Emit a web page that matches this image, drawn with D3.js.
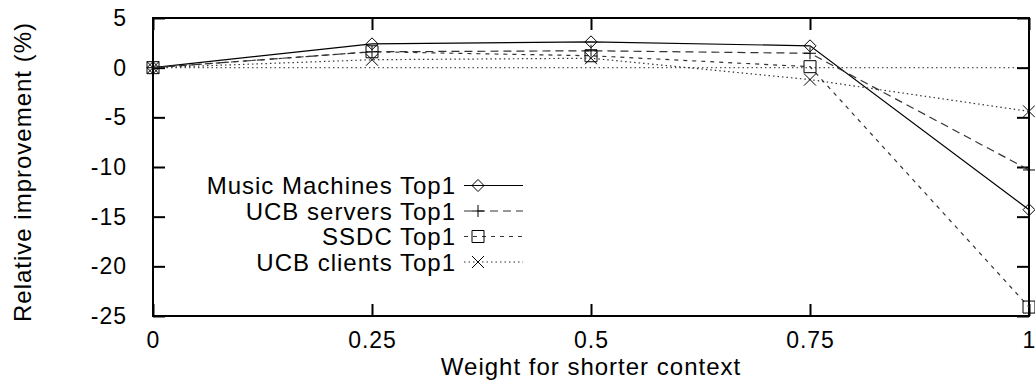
<!DOCTYPE html>
<html>
<head>
<meta charset="utf-8">
<script src="https://cdn.jsdelivr.net/npm/d3@7"></script>
<style>
  body { margin: 0; background: #fff; }
  text { font-family: "Liberation Sans", Arial, sans-serif; fill: #000; }
</style>
</head>
<body>
<div id="chart"></div>
<script>
// data
const weights = [0, 0.25, 0.5, 0.75, 1];
const musicMachines = [0, 2.4, 2.6, 2.2, -14.3];
const ucbServers = [0, 1.6, 1.7, 1.45, -10.3];
const ssdc = [0, 1.6, 1.2, 0.1, -24.1];
const ucbClients = [0, 0.8, 0.95, -1.2, -4.4];
const seriesNames = ['Music Machines Top1', 'UCB servers Top1', 'SSDC Top1', 'UCB clients Top1'];
const xTicks = [0, 0.25, 0.5, 0.75, 1];
const yTicks = [5, 0, -5, -10, -15, -20, -25];

const width = 1035, height = 388;
const margin = {top: 18, right: 6, bottom: 72, left: 153};
const innerW = width - margin.left - margin.right;
const innerH = height - margin.top - margin.bottom;

const svg = d3.select('#chart').append('svg')
    .attr('width', width)
    .attr('height', height);

const chart = svg.append('g')
    .attr('transform', `translate(${margin.left},${margin.top})`);

const x = d3.scaleLinear().domain([0, 1]).range([0, innerW]);
const y = d3.scaleLinear().domain([-25, 5]).range([innerH, 0]);

// dotted zero axis
chart.append('line')
    .attr('x1', 0).attr('x2', innerW)
    .attr('y1', y(0)).attr('y2', y(0))
    .attr('stroke', '#555')
    .attr('stroke-width', 1.2)
    .attr('stroke-dasharray', '1.5,3');

// ticks on all four sides, pointing inward
const tickLen = 12;
const fmt = d => String(d);
chart.append('g')
    .attr('class', 'x-axis')
    .attr('transform', `translate(0,${innerH})`)
    .call(d3.axisBottom(x).tickValues(xTicks).tickSize(-tickLen).tickPadding(tickLen + 4).tickFormat(fmt))
    .call(g => g.select('.domain').remove());
chart.append('g')
    .call(d3.axisTop(x).tickValues(xTicks).tickSize(-tickLen).tickFormat(''))
    .call(g => g.select('.domain').remove());
chart.append('g')
    .attr('class', 'y-axis')
    .call(d3.axisLeft(y).tickValues(yTicks).tickSize(-tickLen).tickPadding(tickLen + 14).tickFormat(fmt))
    .call(g => g.select('.domain').remove());
chart.append('g')
    .attr('transform', `translate(${innerW},0)`)
    .call(d3.axisRight(y).tickValues(yTicks).tickSize(-tickLen).tickFormat(''))
    .call(g => g.select('.domain').remove());

chart.selectAll('.tick line').attr('stroke', '#000').attr('stroke-width', 2);
chart.selectAll('.tick text')
    .style('font-size', '23px')
    .style('letter-spacing', '1px')
    .style('font-family', '"Liberation Sans", Arial, sans-serif');

// frame
chart.append('rect')
    .attr('width', innerW).attr('height', innerH)
    .attr('fill', 'none')
    .attr('stroke', '#000')
    .attr('stroke-width', 2);

// series
const styles = [
  {dash: null, marker: 'diamond'},
  {dash: '8,5', marker: 'plus'},
  {dash: '4,5', marker: 'square'},
  {dash: '1.5,3', marker: 'cross'}
];
const allSeries = [musicMachines, ucbServers, ssdc, ucbClients];

const line = d3.line()
    .x((d, i) => x(weights[i]))
    .y(d => y(d));

function drawMarker(g, type, cx, cy) {
  const s = 6;
  let path;
  if (type === 'diamond') path = `M${cx},${cy - s}L${cx + s},${cy}L${cx},${cy + s}L${cx - s},${cy}Z`;
  if (type === 'plus') path = `M${cx - s},${cy}H${cx + s}M${cx},${cy - s}V${cy + s}`;
  if (type === 'square') path = `M${cx - s},${cy - s}H${cx + s}V${cy + s}H${cx - s}Z`;
  if (type === 'cross') path = `M${cx - s},${cy - s}L${cx + s},${cy + s}M${cx + s},${cy - s}L${cx - s},${cy + s}`;
  g.append('path')
      .attr('d', path)
      .attr('fill', 'none')
      .attr('stroke', '#000')
      .attr('stroke-width', 1);
}

allSeries.forEach((vals, k) => {
  const st = styles[k];
  chart.append('path')
      .datum(vals)
      .attr('d', line)
      .attr('fill', 'none')
      .attr('stroke', k === 0 ? '#000' : '#333')
      .attr('stroke-width', 1.2)
      .attr('stroke-dasharray', st.dash);
  const mg = chart.append('g');
  vals.forEach((v, i) => drawMarker(mg, st.marker, x(weights[i]), y(v)));
});

// legend
const legend = svg.append('g')
    .attr('transform', 'translate(458,194)');
seriesNames.forEach((name, k) => {
  const g = legend.append('g').attr('transform', `translate(0,${k * 25.5})`);
  g.append('text')
      .attr('x', -2)
      .attr('y', 0)
      .attr('text-anchor', 'end')
      .style('font-size', '24px')
      .style('letter-spacing', '1px')
      .text(name);
  g.append('line')
      .attr('x1', 6).attr('x2', 65)
      .attr('y1', -8.5).attr('y2', -8.5)
      .attr('stroke', k === 0 ? '#000' : '#333')
      .attr('stroke-width', 1.2)
      .attr('stroke-dasharray', styles[k].dash);
  drawMarker(g, styles[k].marker, 20, -8.5);
});

// axis titles
svg.append('text')
    .attr('x', margin.left + x(0.5))
    .attr('y', 375)
    .attr('text-anchor', 'middle')
    .style('font-size', '24px')
    .style('letter-spacing', '1px')
    .text('Weight for shorter context');

svg.append('text')
    .attr('text-anchor', 'middle')
    .attr('transform', `translate(31,172) rotate(-90)`)
    .style('font-size', '24px')
    .style('letter-spacing', '1px')
    .text('Relative improvement (%)');
</script>
</body>
</html>
